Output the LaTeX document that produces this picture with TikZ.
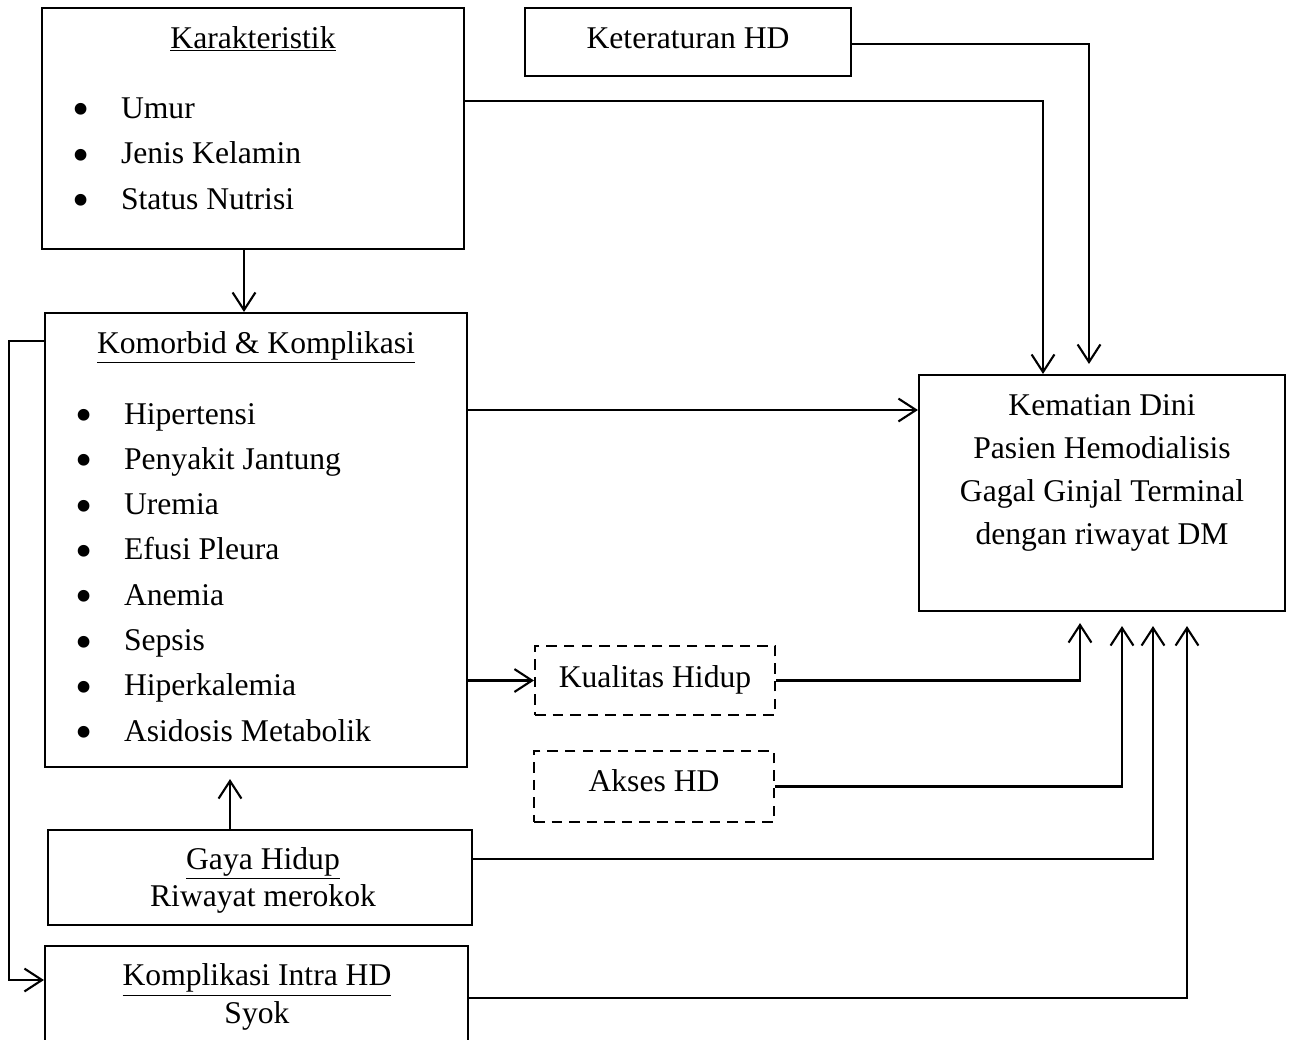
\documentclass[tikz,border=0pt]{standalone}
\usepackage{fontspec}
\usepackage{graphicx}
\setmainfont{Liberation Serif}
\usetikzlibrary{fit,calc,arrows.meta}

\newcommand{\butir}{\makebox[0.98cm][l]{\smash{\raisebox{-0.24em}{\scalebox{1.55}{\textbullet}}}}}

\tikzset{
  box/.style={draw, inner sep=0pt},
  dbox/.style={draw, dashed, dash pattern=on 6pt off 4pt, inner sep=0pt},
  txt/.style={inner sep=0pt, font=\fontsize{18}{22}\selectfont},
  item/.style={txt, anchor=base west},
}

\begin{document}
\begin{tikzpicture}[x=0.02cm, y=-0.02cm, line width=1.2pt,
    >={Straight Barb[length=10pt,width=13pt]}]
  \useasboundingbox (0,0) rectangle (1295,1039);
  % kotak
  \node[box, fit={(42,8) (464,249)}] (kar) {};
  \node[box, fit={(525,8) (851,76)}] (ket) {};
  \node[box, fit={(45,313) (467,767)}] (kom) {};
  \node[box, fit={(919,375) (1285,611)}] (mati) {};
  \node[dbox, fit={(535,646) (775,715)}] (kual) {};
  \node[dbox, fit={(534,751) (774,822)}] (akses) {};
  \node[box, fit={(48,830) (472,925)}] (gaya) {};
  \node[box, fit={(45,946) (468,1045)}] (intra) {};

  % teks
  \node[txt, anchor=base] (karT) at (253,48) {\underline{Karakteristik}};
  \foreach \t [count=\i] in {Umur,Jenis Kelamin,Status Nutrisi}
    \node[item] (kar\i) at (71,{118+45.5*(\i-1)}) {\butir\t};
  \node[txt, anchor=base] (ketT) at (688,48) {Keteraturan HD};
  \node[txt, anchor=base] (komT) at (256,353) {\underline{Komorbid \& Komplikasi}};
  \foreach \t [count=\i] in {Hipertensi,Penyakit Jantung,Uremia,Efusi Pleura,Anemia,Sepsis,Hiperkalemia,Asidosis Metabolik}
    \node[item] (kom\i) at (74,{424+45.3*(\i-1)}) {\butir\t};
  \node[txt, align=center, font=\fontsize{18}{24.4}\selectfont] (matiT) at (1102,473)
    {Kematian Dini\\Pasien Hemodialisis\\Gagal Ginjal Terminal\\dengan riwayat DM};
  \node[txt, anchor=base] (kualT) at (655,687) {Kualitas Hidup};
  \node[txt, anchor=base] (aksesT) at (654,791) {Akses HD};
  \node[txt, align=center, font=\fontsize{18}{21}\selectfont] (gayaT) at (263,880)
    {\underline{Gaya Hidup}\\Riwayat merokok};
  \node[txt, align=center, font=\fontsize{18}{21.5}\selectfont] (intraT) at (257,997)
    {\underline{Komplikasi Intra HD}\\Syok};

  % panah
  \draw[->] ([xshift=-0.18cm]kar.south) -- ([xshift=-0.18cm]kar.south |- kom.north);
  \draw[->] (kar.east |- 0,101) -| (mati.north -| 1043,0);
  \draw[->] (ket.east |- 0,44) -| ($(mati.north)+(-13,-10)$);
  \draw[->] (kom.east |- 0,410) -- (mati.west |- 0,410);
  \draw[->] (kom.east |- kual.west) -- (kual.west);
  \draw[->] (kual.east) -| ($(mati.south)+(-22,11)$);
  \draw[->] (akses.east) -| ($(mati.south)+(20,14)$);
  \draw[->] (gaya.east |- 0,859) -| ($(mati.south)+(51,14)$);
  \draw[->] (intra.east |- 0,998) -| ($(mati.south)+(85,14)$);
  \draw[->, shorten >=0.22cm] ([xshift=-0.6cm]gaya.north) -- ([xshift=-0.6cm]gaya.north |- kom.south);
  \draw[->] (kom.west |- 0,341) -- ++(-35,0) |- (intra.west |- 0,980);
\end{tikzpicture}
\end{document}
